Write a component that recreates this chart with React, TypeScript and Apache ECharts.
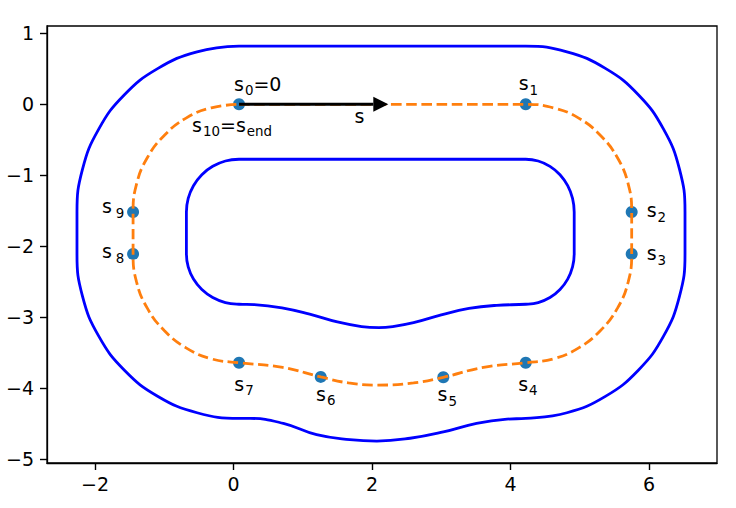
import React, { useEffect, useRef } from "react";
import * as echarts from "echarts";

// Axis ticks
const xTicks = [-2, 0, 2, 4, 6];
const yTicks = [-5, -4, -3, -2, -1, 0, 1];

// Reference (centre) line, starting at s0 and running clockwise
const centerLine: [number, number][] = [
  [0.08, 0], [4.22, 0],
  [4.62, -0.05], [4.985, -0.195], [5.3, -0.44], [5.545, -0.755], [5.7, -1.125], [5.75, -1.52],
  [5.75, -2.11],
  [5.7, -2.505], [5.545, -2.875], [5.3, -3.19], [4.985, -3.435], [4.62, -3.59], [4.22, -3.645],
  [3.61, -3.71], [3.03, -3.85], [2.6, -3.93], [2.07, -3.96], [1.66, -3.93], [1.26, -3.845], [0.71, -3.71], [0.08, -3.645],
  [-0.32, -3.59], [-0.685, -3.435], [-1.0, -3.19], [-1.245, -2.875], [-1.4, -2.505], [-1.45, -2.11],
  [-1.45, -1.52],
  [-1.4, -1.125], [-1.245, -0.755], [-1.0, -0.44], [-0.685, -0.195], [-0.32, -0.05], [0.08, 0],
];

// Outer boundary
const outerLine: [number, number][] = [
  [0.08, 0.82], [4.22, 0.82],
  [4.815, 0.74], [5.37, 0.506], [5.846, 0.135], [6.21, -0.35], [6.44, -0.914], [6.52, -1.52],
  [6.52, -2.11],
  [6.44, -2.71], [6.21, -3.27], [5.846, -3.75], [5.37, -4.12], [4.815, -4.35], [4.22, -4.43],
  [3.95, -4.44], [3.51, -4.5], [3.03, -4.62], [2.55, -4.71], [2.07, -4.75], [1.68, -4.73], [1.2, -4.66], [0.72, -4.5], [0.24, -4.43], [0.08, -4.43],
  [-0.526, -4.35], [-1.09, -4.12], [-1.575, -3.75], [-1.946, -3.27], [-2.18, -2.71], [-2.26, -2.11],
  [-2.26, -1.52],
  [-2.18, -0.914], [-1.946, -0.35], [-1.575, 0.135], [-1.09, 0.506], [-0.526, 0.74], [0.08, 0.82],
];

// Inner boundary
const innerLine: [number, number][] = [
  [0.08, -0.775], [4.22, -0.775],
  [4.4, -0.8], [4.57, -0.875], [4.715, -0.993], [4.826, -1.148], [4.896, -1.327], [4.92, -1.52],
  [4.92, -2.11],
  [4.896, -2.294], [4.826, -2.465], [4.715, -2.612], [4.57, -2.725], [4.4, -2.796], [4.22, -2.82],
  [3.8, -2.835], [3.4, -2.88], [3.0, -2.97], [2.6, -3.08], [2.3, -3.135], [2.1, -3.15], [1.85, -3.135], [1.5, -3.07], [1.1, -2.96], [0.7, -2.87], [0.3, -2.825], [0.08, -2.82],
  [-0.117, -2.796], [-0.3, -2.725], [-0.457, -2.612], [-0.578, -2.465], [-0.654, -2.294], [-0.68, -2.11],
  [-0.68, -1.52],
  [-0.654, -1.327], [-0.578, -1.148], [-0.457, -0.993], [-0.3, -0.875], [-0.117, -0.8], [0.08, -0.775],
];

// Marked points s0 .. s9
const pointSubs = ["0", "1", "2", "3", "4", "5", "6", "7", "8", "9"];
const pointX = [0.08, 4.22, 5.75, 5.75, 4.22, 3.03, 1.26, 0.08, -1.45, -1.45];
const pointY = [0, 0, -1.52, -2.11, -3.645, -3.85, -3.845, -3.645, -2.11, -1.52];
const endSub = "10";
const endName = "end";

// Arrow showing the direction of s
const arrowStart: [number, number] = [0.08, 0];
const arrowShaftEnd: [number, number] = [2.02, 0];
const arrowHead: [number, number] = [2.127, 0];

const FONT = "DejaVu Sans";

const rich = {
  m: { fontSize: 19, fontFamily: FONT, color: "#000" },
  b: { fontSize: 13.4, fontFamily: FONT, color: "#000", padding: [14, 0, 0, 1] },
  w: { fontSize: 13.4, fontFamily: FONT, color: "#000", padding: [14, 0, 0, 4] },
};

// label placement (layout only)
const labelLayout: { align: string; offset: [number, number]; text: (s: string) => string }[] = [
  { align: "left", offset: [-5, -20.5], text: (s) => `{m|s}{b|${s}}{m|=0}` },
  { align: "left", offset: [-7, -21], text: (s) => `{m|s}{b|${s}}` },
  { align: "left", offset: [15, -1.7], text: (s) => `{m|s}{b|${s}}` },
  { align: "left", offset: [15, -0.7], text: (s) => `{m|s}{b|${s}}` },
  { align: "left", offset: [-7.5, 21], text: (s) => `{m|s}{b|${s}}` },
  { align: "left", offset: [-5.7, 17], text: (s) => `{m|s}{b|${s}}` },
  { align: "left", offset: [-4.7, 17], text: (s) => `{m|s}{b|${s}}` },
  { align: "left", offset: [-4.7, 21], text: (s) => `{m|s}{b|${s}}` },
  { align: "right", offset: [-8.7, -2.4], text: (s) => `{m|s}{w|${s}}` },
  { align: "right", offset: [-8.7, -6], text: (s) => `{m|s}{w|${s}}` },
];

const fmt = (v: number) => (v < 0 ? "\u2212" + Math.abs(v) : String(v));

export default function App() {
  const ref = useRef<HTMLDivElement>(null);
  useEffect(() => {
    if (!ref.current) return;
    const chart = echarts.init(ref.current, null, { renderer: "svg" });

    const scatterData = pointSubs.map((s, i) => ({
      value: [pointX[i], pointY[i]],
      label: {
        show: true,
        position: "inside",
        align: labelLayout[i].align,
        verticalAlign: "middle",
        offset: labelLayout[i].offset,
        formatter: labelLayout[i].text(s),
        color: "#000",
        rich,
      },
    }));

    const axisCommon = {
      type: "value",
      splitLine: { show: false },
      axisLine: { show: true, onZero: false, lineStyle: { color: "#000", width: 1.3 } },
    };

    const option: any = {
      animation: false,
      backgroundColor: "#fff",
      grid: {
        left: 47,
        right: 19,
        top: 26,
        bottom: 45,
        show: true,
        borderColor: "#000",
        borderWidth: 1.3,
        backgroundColor: "transparent",
        containLabel: false,
        outerBoundsMode: "none",
      },
      xAxis: {
        ...axisCommon,
        min: -2.693,
        max: 6.982,
        axisTick: { show: true, length: 7, lineStyle: { color: "#000", width: 1.4 }, customValues: xTicks },
        axisLabel: {
          customValues: xTicks,
          formatter: (v: number) => fmt(v),
          fontSize: 19,
          fontFamily: FONT,
          color: "#000",
          margin: 11,
        },
      },
      yAxis: {
        ...axisCommon,
        min: -5.059,
        max: 1.104,
        axisTick: { show: true, length: 7, lineStyle: { color: "#000", width: 1.4 }, customValues: yTicks },
        axisLabel: {
          customValues: yTicks,
          formatter: (v: number) => fmt(v),
          fontSize: 19,
          fontFamily: FONT,
          color: "#000",
          margin: 13,
        },
      },
      series: [
        {
          type: "line",
          data: outerLine,
          showSymbol: false,
          smooth: 0.45,
          lineStyle: { color: "#0000ff", width: 2.8 },
          z: 2,
          silent: true,
        },
        {
          type: "line",
          data: innerLine,
          showSymbol: false,
          smooth: 0.45,
          lineStyle: { color: "#0000ff", width: 2.8 },
          z: 2,
          silent: true,
        },
        {
          type: "scatter",
          data: scatterData,
          symbolSize: 12,
          itemStyle: { color: "#1f77b4", opacity: 1 },
          z: 3,
          silent: true,
        },
        {
          type: "scatter",
          data: [
            {
              value: [pointX[0], pointY[0]],
              label: {
                show: true,
                position: "inside",
                align: "left",
                verticalAlign: "middle",
                offset: [-47, 20.6],
                formatter: `{m|s}{b|${endSub}}{m|=}{m|s}{b|${endName}}`,
                color: "#000",
                opacity: 1,
                rich,
              },
            },
          ],
          symbolSize: 0,
          itemStyle: { color: "#1f77b4", opacity: 1 },
          z: 3,
          silent: true,
        },
        {
          type: "line",
          data: centerLine,
          showSymbol: false,
          smooth: 0.45,
          lineStyle: { color: "#ff7f0e", width: 2.8, type: [10.6, 4.6] },
          z: 4,
          silent: true,
        },
        {
          type: "line",
          data: [arrowStart, arrowShaftEnd],
          showSymbol: false,
          lineStyle: { color: "#000", width: 3 },
          z: 5,
          silent: true,
        },
        {
          type: "scatter",
          data: [
            {
              value: arrowHead,
              label: {
                show: true,
                position: "inside",
                align: "center",
                verticalAlign: "middle",
                offset: [-21.3, 11.6],
                formatter: "{m|s}",
                color: "#000",
                rich,
              },
            },
          ],
          symbol: "triangle",
          symbolSize: [15, 15],
          symbolRotate: -90,
          itemStyle: { color: "#000", opacity: 1 },
          z: 5,
          silent: true,
        },
      ],
    };
    chart.setOption(option);
    return () => chart.dispose();
  }, []);

  return (
    <div
      ref={ref}
      style={{ position: "fixed", left: 0, top: 0, width: 736, height: 508, background: "#fff" }}
    />
  );
}
